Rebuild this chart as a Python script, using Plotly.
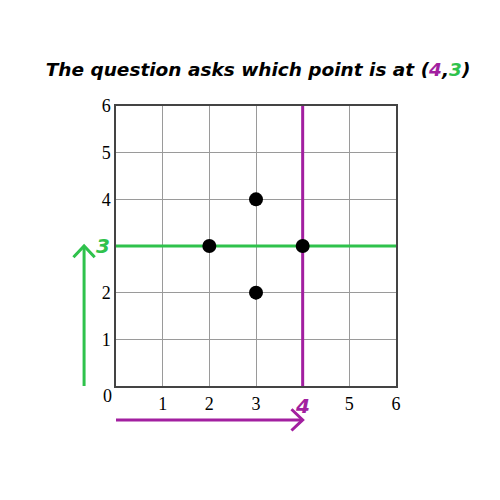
import plotly.graph_objects as go

# Data
pts_x = [2, 3, 3, 4]
pts_y = [3, 4, 2, 3]
target_x = 4
target_y = 3
ticks = [0, 1, 2, 3, 4, 5, 6]
x_ticktext = ["", "1", "2", "3", "", "5", "6"]
y_ticktext = ["", "1", "2", "", "4", "5", "6"]

GREEN = "#2fc24c"
PURPLE = "#a21fa0"
XMAX = 6
YMAX = 6

fig = go.Figure()

# target lines
fig.add_trace(go.Scatter(x=[0, XMAX], y=[target_y, target_y], mode="lines",
                         line=dict(color=GREEN, width=3), hoverinfo="skip"))
fig.add_trace(go.Scatter(x=[target_x, target_x], y=[0, YMAX], mode="lines",
                         line=dict(color=PURPLE, width=3), hoverinfo="skip"))

# points
fig.add_trace(go.Scatter(x=pts_x, y=pts_y, mode="markers",
                         marker=dict(color="black", size=14), cliponaxis=False))

def px(v):
    return v / XMAX

def py(v):
    return v / YMAX

shapes = []
# green vertical arrow (paper coords derived from axis ranges)
gx = -0.114
shapes.append(dict(type="line", xref="paper", yref="paper", x0=gx, x1=gx,
                   y0=py(0), y1=py(target_y), line=dict(color=GREEN, width=3)))
shapes.append(dict(type="path", xref="paper", yref="paper",
                   path=f"M {gx-0.038},{py(target_y)-0.04} L {gx},{py(target_y)} L {gx+0.038},{py(target_y)-0.04}",
                   line=dict(color=GREEN, width=3)))
# purple horizontal arrow
ay = -0.121
shapes.append(dict(type="line", xref="paper", yref="paper", x0=px(0), x1=px(target_x),
                   y0=ay, y1=ay, line=dict(color=PURPLE, width=3)))
shapes.append(dict(type="path", xref="paper", yref="paper",
                   path=f"M {px(target_x)-0.04},{ay+0.038} L {px(target_x)},{ay} L {px(target_x)-0.04},{ay-0.038}",
                   line=dict(color=PURPLE, width=3)))

annotations = [
    dict(text="3", x=-0.045, y=py(target_y), xref="paper", yref="paper", showarrow=False,
         font=dict(family="DejaVu Sans", size=20, color=GREEN, weight="bold", style="italic"),
         xanchor="center", yanchor="middle"),
    dict(text="4", x=px(target_x), y=-0.07, xref="paper", yref="paper", showarrow=False,
         font=dict(family="DejaVu Sans", size=20, color=PURPLE, weight="bold", style="italic"),
         xanchor="center", yanchor="middle"),
    dict(text="0", x=-0.032, y=-0.035, xref="paper", yref="paper", showarrow=False,
         font=dict(family="Liberation Serif", size=18, color="black"),
         xanchor="center", yanchor="middle"),
]

fig.update_layout(
    width=500, height=500,
    margin=dict(l=108, r=112, t=98, b=122),
    paper_bgcolor="white", plot_bgcolor="white",
    showlegend=False,
    shapes=shapes,
    annotations=annotations,
    title=dict(
        text=f"<b><i>The question asks which point is at (<span style='color:{PURPLE}'>4</span>,<span style='color:{GREEN}'>3</span>)</i></b>",
        x=0.5, xanchor="center", y=1 - 62 / 500, yanchor="middle",
        font=dict(family="DejaVu Sans", size=18.5, color="black"),
    ),
    xaxis=dict(range=[0, XMAX], tickvals=ticks, ticktext=x_ticktext,
               showgrid=True, gridcolor="#9a9a9a", gridwidth=1,
               showline=True, linecolor="#444", linewidth=1.5, mirror=True,
               zeroline=False, ticks="", ticklabelstandoff=1,
               tickfont=dict(family="Liberation Serif", size=18, color="black")),
    yaxis=dict(range=[0, YMAX], tickvals=ticks, ticktext=y_ticktext,
               showgrid=True, gridcolor="#9a9a9a", gridwidth=1,
               showline=True, linecolor="#444", linewidth=1.5, mirror=True,
               zeroline=False, ticks="", ticklabelstandoff=0,
               tickfont=dict(family="Liberation Serif", size=18, color="black")),
)

fig.write_html("out.html")
